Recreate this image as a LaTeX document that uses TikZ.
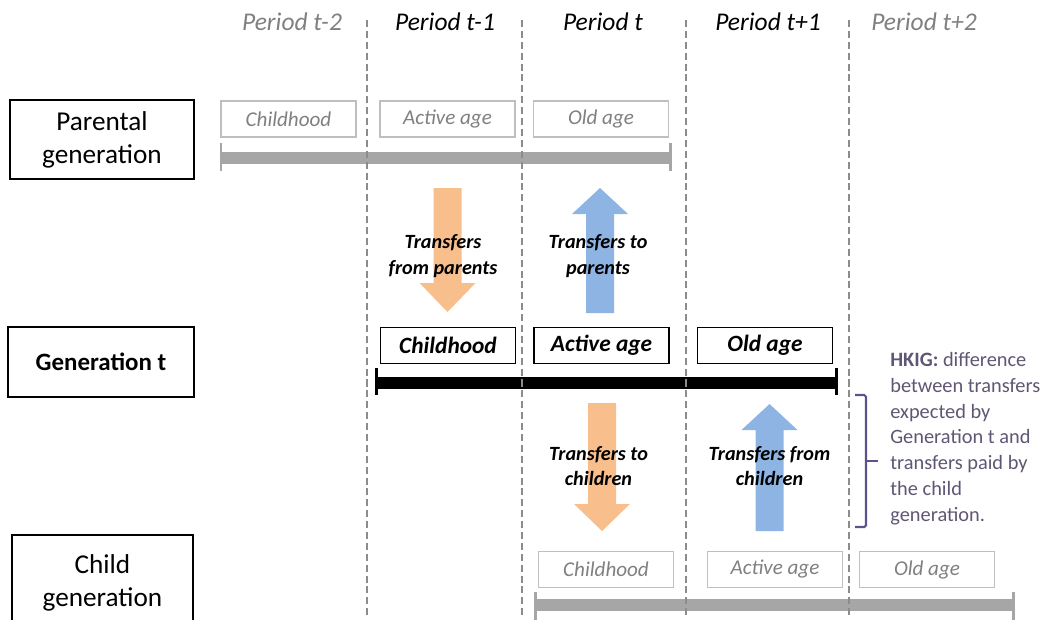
\documentclass[tikz,border=0pt]{standalone}
\usepackage{fontspec}
\setmainfont{Carlito}
\usepackage{xcolor}
\usepackage{tikz}
\usetikzlibrary{positioning}

\definecolor{arroworange}{RGB}{248,190,140}
\definecolor{arrowblue}{RGB}{141,180,226}
\definecolor{boxgray}{RGB}{191,191,191}
\definecolor{textgray}{RGB}{128,128,128}
\definecolor{bargray}{RGB}{166,166,166}
\definecolor{gridgray}{RGB}{140,140,140}
\definecolor{hkigpurple}{RGB}{96,80,140}
\definecolor{hkigtext}{RGB}{96,86,116}

% block arrow: x, tail y, head base y, tip y, colour
\newcommand{\blockarrow}[5]{%
  \fill[#5] ({#1-14},#2) -- ({#1-14},#3) -- ({#1-28},#3) -- (#1,#4)
    -- ({#1+28},#3) -- ({#1+14},#3) -- ({#1+14},#2) -- cycle;}

\begin{document}
\begin{tikzpicture}[x=0.02cm, y=-0.02cm,
  period/.style={font=\fontsize{14.5}{17}\selectfont\itshape, anchor=base},
  genbox/.style={draw, line width=1.6pt, align=center, inner sep=0pt,
    font=\fontsize{15.5}{18.7}\selectfont},
  agebox/.style={draw, line width=0.8pt, fill=white, minimum width=2.7cm,
    minimum height=0.72cm, inner sep=0pt,
    font=\fontsize{13.3}{16}\selectfont\bfseries\itshape},
  oldbox/.style={draw=boxgray, line width=0.7pt, fill=white, text=textgray,
    minimum width=2.7cm, minimum height=0.72cm, inner sep=0pt,
    font=\fontsize{12}{14}\selectfont\itshape},
  flow/.style={align=center, inner sep=0pt,
    font=\fontsize{11.5}{14.7}\selectfont\bfseries\itshape},
  lifebar/.style={line width=7pt},
  endtick/.style={line width=1.7pt},
]
\useasboundingbox (0,0) rectangle (1053,619);
\clip (0,0) rectangle (1053,619);

% Period labels
\node[period, textgray] (pt2) at (292,30) {Period t-2};
\node[period]           (pt1) at (445,30) {Period t-1};
\node[period]           (p0)  at (603,30) {Period t};
\node[period]           (pp1) at (768,30) {Period t+1};
\node[period, textgray] (pp2) at (924,30) {Period t+2};

% Generation boxes
\node[genbox, minimum width=3.68cm, minimum height=1.58cm] (parent) at (102,139.5) {Parental\\generation};
\node[genbox, minimum width=3.72cm, minimum height=1.40cm, font=\fontsize{14.2}{17}\selectfont\bfseries] (gent) at (101,362) {Generation t};
\node[genbox, minimum width=3.62cm, minimum height=1.92cm] (child) at (102.5,583) {Child\\generation};

% Parental generation
\draw[bargray, lifebar] (221,158) -- (670,158);
\draw[bargray, endtick] (221,143) -- (221,171);
\draw[bargray, endtick] (670,143) -- (670,171);
\node[oldbox] (pchild)  at (288.5,119) {Childhood};
\node[oldbox] (pactive) at (447.5,119) {Active age};
\node[oldbox] (pold)    at (601,119)   {Old age};

% Generation t
\draw[black, lifebar] (376,383) -- (836,383);
\draw[black, endtick] (376,368) -- (376,395);
\draw[black, endtick] (836,368) -- (836,395);
\node[agebox] (tchild)  at (448,345.5)   {Childhood};
\node[agebox] (tactive) at (601.5,345.5) {Active age};
\node[agebox] (told)    at (765,345.5)   {Old age};

% Child generation
\draw[bargray, lifebar] (535,605) -- (1013,605);
\draw[bargray, endtick] (535,592) -- (535,621);
\draw[bargray, endtick] (1013,592) -- (1013,621);
\node[oldbox] (cchild)  at (606,569.5) {Childhood};
\node[oldbox] (cactive) at (775,569.5) {Active age};
\node[oldbox] (cold)    at (927,569.5) {Old age};

% Transfers
\blockarrow{447.5}{188}{283}{312}{arroworange}
\blockarrow{600}{313}{214}{188}{arrowblue}
\blockarrow{602}{403}{504}{531}{arroworange}
\blockarrow{769.5}{531}{430}{404}{arrowblue}
\node[flow] (fromparents)  at (443,256)   {Transfers\\from parents};
\node[flow] (toparents)    at (598,256)   {Transfers to\\parents};
\node[flow] (tochildren)   at (598.5,466) {Transfers to\\children};
\node[flow] (fromchildren) at (769.5,466) {Transfers from\\children};

% HKIG note
\draw[hkigpurple, line width=1.2pt, rounded corners=1pt] (855,395) -- (866,395) -- (866,527) -- (855,527);
\draw[hkigpurple, line width=1.2pt] (866,461) -- (878,461);
\node[anchor=north west, inner sep=0pt, align=left, text=hkigtext,
  font=\fontsize{11.6}{14.7}\selectfont] (hkig) at (890,352)
  {\textbf{HKIG:} difference\\between transfers\\expected by\\Generation t and\\transfers paid by\\the child\\generation.};

% Period boundaries
\foreach \x in {367,522,686,849}
  \draw[gridgray, line width=0.6pt, dash pattern=on 4pt off 2.2pt] (\x,20) -- (\x,619);
\end{tikzpicture}
\end{document}
